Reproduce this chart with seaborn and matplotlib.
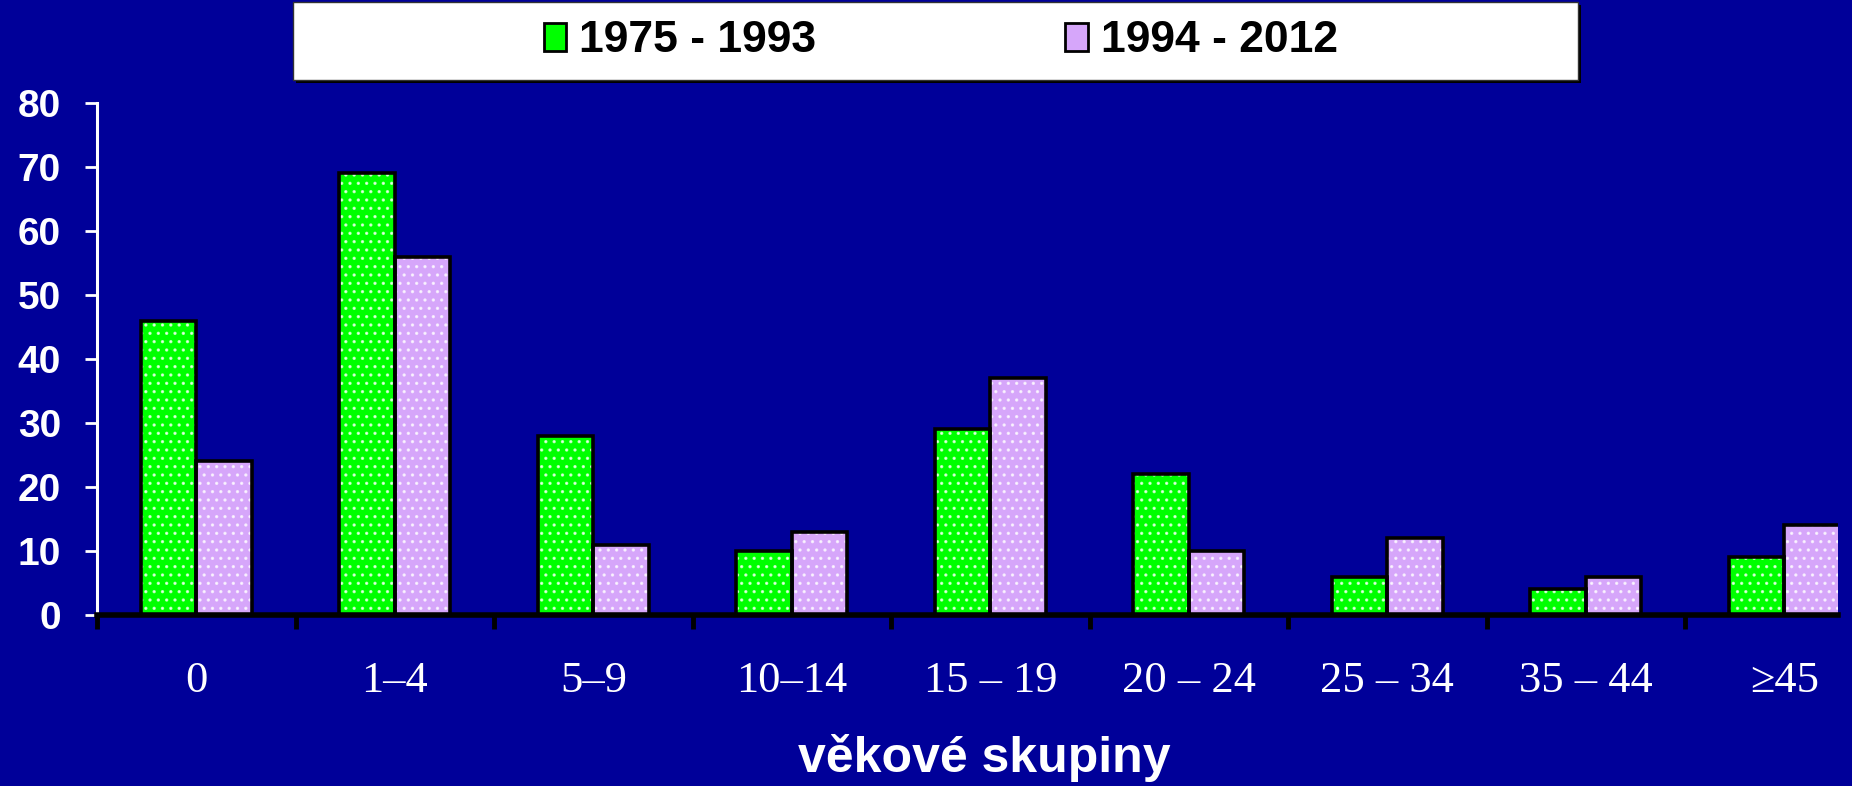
import pandas as pd
import matplotlib.pyplot as plt
import seaborn as sns
from matplotlib.patches import Rectangle

groups = ["0", "1–4", "5–9", "10–14", "15 – 19", "20 – 24", "25 – 34", "35 – 44", "≥45"]
periods = ["1975 - 1993", "1994 - 2012"]
early = [46, 69, 28, 10, 29, 22, 6, 4, 9]
late = [24, 56, 11, 13, 37, 10, 12, 6, 14]

bg = "#000099"
colors = {periods[0]: "#00FF00", periods[1]: "#D6A6FA"}

df = pd.DataFrame({
    "group": groups * 2,
    "period": [periods[0]] * len(groups) + [periods[1]] * len(groups),
    "value": early + late,
})

sns.set_style("white")
plt.rcParams["font.family"] = ["Liberation Sans", "DejaVu Sans"]
plt.rcParams["hatch.linewidth"] = 1.2

fig = plt.figure(figsize=(18.52, 7.86), dpi=100, facecolor=bg)
ax = fig.add_axes([0.0524, 0.2176, 0.9400, 0.6514])
ax.set_facecolor(bg)

# filled bars
sns.barplot(data=df, x="group", y="value", hue="period", palette=colors,
            width=0.56, edgecolor="black", linewidth=0, saturation=1, ax=ax)
handles, labels = ax.get_legend_handles_labels()
for h in handles:
    h.set_edgecolor("black")
    h.set_linewidth(2)
ax.get_legend().remove()

# dotted pattern
n0 = len(ax.patches)
sns.barplot(data=df, x="group", y="value", hue="period", palette=colors,
            width=0.56, fill=False, hatch="..", legend=False, ax=ax)
for p in ax.patches[n0:]:
    p.set_edgecolor((1, 1, 1, 0.7))
    p.set_linewidth(0)

# black outlines
n1 = len(ax.patches)
sns.barplot(data=df, x="group", y="value", hue="period", palette=colors,
            width=0.56, fill=False, legend=False, ax=ax)
for p in ax.patches[n1:]:
    p.set_edgecolor("black")
    p.set_linewidth(2.6)

ax.set_ylim(0, 80)
ax.set_xlim(-0.5, 8.27)
ax.set_yticks(range(0, 81, 10))
ax.tick_params(axis="y", colors="white", length=9, width=2, pad=17,
               labelsize=28, left=True)
for t in ax.get_yticklabels():
    t.set_fontweight("bold")

ax.set_xticks(range(len(groups)))
ax.set_xticklabels(groups, family=["Liberation Serif", "DejaVu Serif"], fontsize=32, color="white")
ax.tick_params(axis="x", length=0, pad=33)
ax.set_xticks([i - 0.5 for i in range(len(groups))], minor=True)
ax.tick_params(axis="x", which="minor", bottom=True, length=10, width=3.5, color="black")

for s in ["top", "right"]:
    ax.spines[s].set_visible(False)
ax.spines["left"].set_color("white")
ax.spines["left"].set_linewidth(2.2)
ax.spines["bottom"].set_color("black")
ax.spines["bottom"].set_linewidth(4)
ax.spines["bottom"].set_zorder(5)

ax.set_xlabel("")
ax.set_ylabel("")
fig.text(984 / 1852, 1 - 772 / 786, "věkové skupiny", fontsize=36, fontweight="bold",
         color="white", ha="center", va="baseline")

# legend box
fig.patches.append(Rectangle((296 / 1852, 1 - 83 / 786), 1285 / 1852, 78 / 786,
                             transform=fig.transFigure, facecolor="black", edgecolor="none"))
fig.patches.append(Rectangle((293 / 1852, 1 - 80 / 786), 1285 / 1852, 78 / 786,
                             transform=fig.transFigure, facecolor="white", edgecolor="#333333", lw=1))
leg = fig.legend(handles, labels, loc="center", bbox_to_anchor=(0.508, 1 - 41 / 786), ncol=2,
                 frameon=False, prop={"size": 32, "weight": "bold"}, handlelength=0.5,
                 handleheight=0.6, handletextpad=0.3, columnspacing=5.6)
for t in leg.get_texts():
    t.set_color("black")

fig.savefig("out.png", dpi=100, facecolor=bg)
